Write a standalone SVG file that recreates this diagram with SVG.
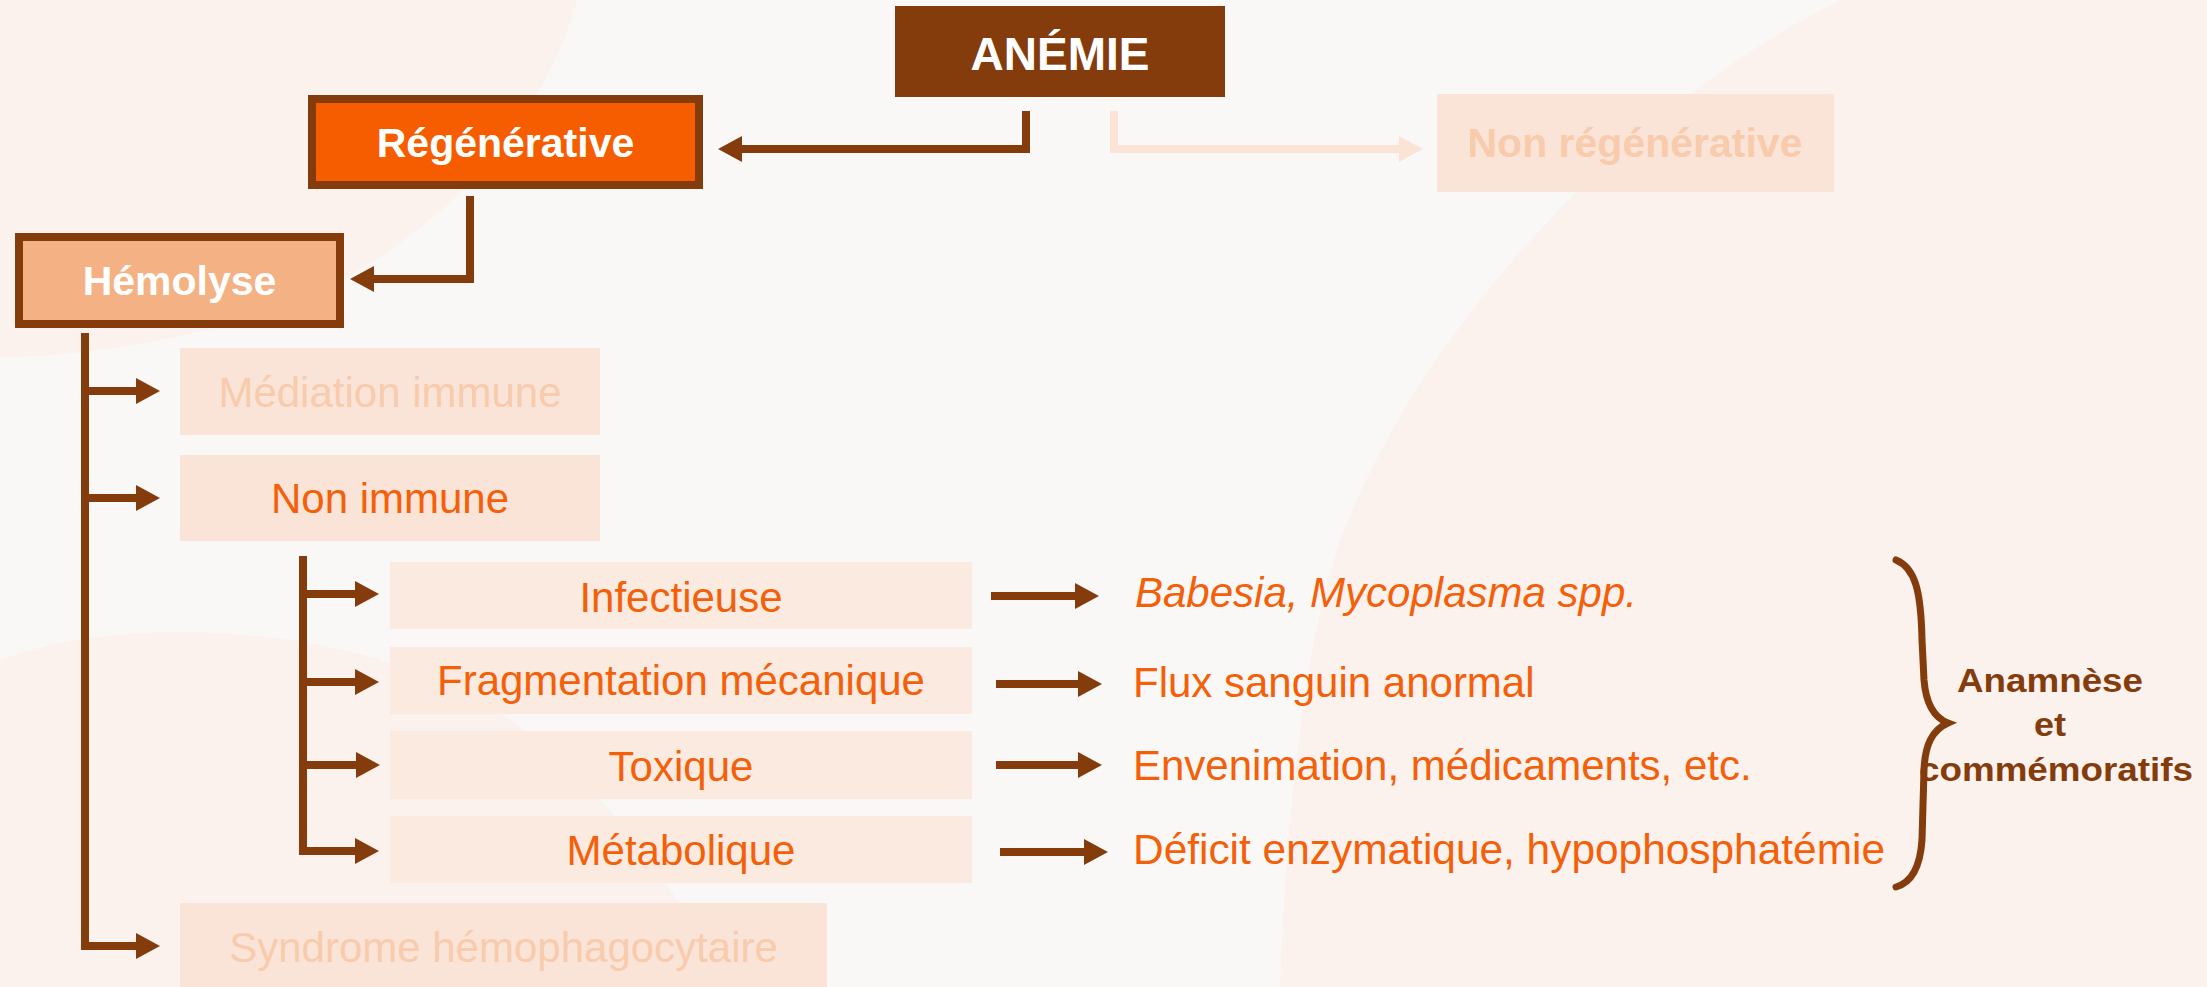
<svg xmlns="http://www.w3.org/2000/svg" width="2207" height="987" viewBox="0 0 2207 987">
<defs>
<style>
.t{font-family:"Liberation Sans",Arial,sans-serif;}
.b{font-weight:bold;}
.mid{text-anchor:middle;}
.w{fill:#FFFFFF;}
.o{fill:#F45F0A;font-size:42px;}
.f{fill:#F8CBAD;}
.br{fill:#843C0C;font-size:33px;}
.lbox{fill:#FAE4D7;}
.sbox{fill:#FBEADF;}
.conn{fill:none;stroke:#843C0C;stroke-width:8;stroke-linejoin:miter;stroke-linecap:butt;}
.connf{fill:none;stroke:#FBE3D5;stroke-width:8;stroke-linejoin:miter;stroke-linecap:butt;}
</style>
<marker id="ah" markerUnits="userSpaceOnUse" viewBox="0 0 25 26" markerWidth="25" markerHeight="26" refX="1" refY="13" orient="auto"><path d="M0,0 L24,13 L0,26 Z" fill="#843C0C"/></marker>
<marker id="ahf" markerUnits="userSpaceOnUse" viewBox="0 0 25 26" markerWidth="25" markerHeight="26" refX="1" refY="13" orient="auto"><path d="M0,0 L24,13 L0,26 Z" fill="#FBE3D5"/></marker>
</defs>

<g id="background">
<rect x="0" y="0" width="2207" height="987" fill="#F9F8F6"/>
<path d="M0,0 L577,0 C545,120 440,240 300,300 C200,340 90,355 0,358 Z" fill="#FBF2EE"/>
<path d="M1840,0 C1620,110 1420,330 1340,540 C1300,660 1285,840 1280,987 L2207,987 L2207,0 Z" fill="#FBF2EE"/>
<path d="M0,660 C120,612 380,620 520,727 C600,790 680,880 720,987 L0,987 Z" fill="#FBF2EE"/>
</g>

<g id="connectors">
<path class="conn" d="M1026,111 V149 H741" marker-end="url(#ah)"/>
<path class="connf" d="M1114,111 V149 H1400" marker-end="url(#ahf)"/>
<path class="conn" d="M470,196 V279 H373" marker-end="url(#ah)"/>
<path class="conn" d="M85,333 V946 H137" marker-end="url(#ah)"/>
<path class="conn" d="M85,391 H137" marker-end="url(#ah)"/>
<path class="conn" d="M85,498 H137" marker-end="url(#ah)"/>
<path class="conn" d="M303,556 V851 H356" marker-end="url(#ah)"/>
<path class="conn" d="M303,594 H356" marker-end="url(#ah)"/>
<path class="conn" d="M303,682 H356" marker-end="url(#ah)"/>
<path class="conn" d="M303,765 H357" marker-end="url(#ah)"/>
<path class="conn" d="M991,596 H1076" marker-end="url(#ah)"/>
<path class="conn" d="M996,684 H1079" marker-end="url(#ah)"/>
<path class="conn" d="M996,765 H1079" marker-end="url(#ah)"/>
<path class="conn" d="M1000,852 H1085" marker-end="url(#ah)"/>
<path d="M1896,560 C1915,568 1921,590 1922,640 L1924,680 C1926,705 1935,718 1948,723 C1932,730 1925,745 1924,770 L1922,840 C1920,870 1910,883 1896,887" fill="none" stroke="#843C0C" stroke-width="7" stroke-linecap="round"/>
</g>

<g id="anemie">
<rect x="895" y="6" width="330" height="91" fill="#843C0C"/>
<text class="t b mid w" x="1060" y="70" font-size="46">ANÉMIE</text>
</g>

<g id="regenerative">
<rect x="312" y="99" width="387" height="86" fill="#F55D00" stroke="#843C0C" stroke-width="8"/>
<text class="t b mid w" x="505.5" y="157" font-size="41">Régénérative</text>
</g>

<g id="non-regenerative">
<rect class="lbox" x="1437" y="94" width="397" height="98"/>
<text class="t b mid f" x="1635" y="157" font-size="41">Non régénérative</text>
</g>

<g id="hemolyse">
<rect x="19" y="237" width="321" height="87" fill="#F4B183" stroke="#843C0C" stroke-width="8"/>
<text class="t b mid w" x="179.5" y="295" font-size="41">Hémolyse</text>
</g>

<g id="mediation-immune">
<rect class="lbox" x="180" y="348" width="420" height="87"/>
<text class="t mid f" x="390" y="407" font-size="42">Médiation immune</text>
</g>

<g id="non-immune">
<rect class="lbox" x="180" y="455" width="420" height="86"/>
<text class="t mid o" x="390" y="513">Non immune</text>
</g>

<g id="infectieuse">
<rect class="sbox" x="390" y="562" width="582" height="67"/>
<text class="t mid o" x="681" y="612">Infectieuse</text>
</g>

<g id="fragmentation">
<rect class="sbox" x="390" y="647" width="582" height="67"/>
<text class="t mid o" x="681" y="695">Fragmentation mécanique</text>
</g>

<g id="toxique">
<rect class="sbox" x="390" y="731" width="582" height="68"/>
<text class="t mid o" x="681" y="781">Toxique</text>
</g>

<g id="metabolique">
<rect class="sbox" x="390" y="816" width="582" height="67"/>
<text class="t mid o" x="681" y="865">Métabolique</text>
</g>

<g id="syndrome">
<rect class="lbox" x="180" y="903" width="647" height="84"/>
<text class="t mid f" x="503.5" y="962" font-size="42">Syndrome hémophagocytaire</text>
</g>

<g id="babesia">
<text class="t o" x="1135" y="607" font-style="italic">Babesia, Mycoplasma spp.</text>
</g>

<g id="flux">
<text class="t o" x="1133" y="697">Flux sanguin anormal</text>
</g>

<g id="envenimation">
<text class="t o" x="1133" y="780">Envenimation, médicaments, etc.</text>
</g>

<g id="deficit">
<text class="t o" x="1133" y="864" textLength="752" lengthAdjust="spacingAndGlyphs">Déficit enzymatique, hypophosphatémie</text>
</g>

<g id="anamnese">
<text class="t b br" x="1957" y="692" textLength="186" lengthAdjust="spacingAndGlyphs">Anamnèse</text>
<text class="t b br" x="2034" y="736" textLength="32" lengthAdjust="spacingAndGlyphs">et</text>
<text class="t b br" x="1919" y="781" textLength="274" lengthAdjust="spacingAndGlyphs">commémoratifs</text>
</g>
</svg>
